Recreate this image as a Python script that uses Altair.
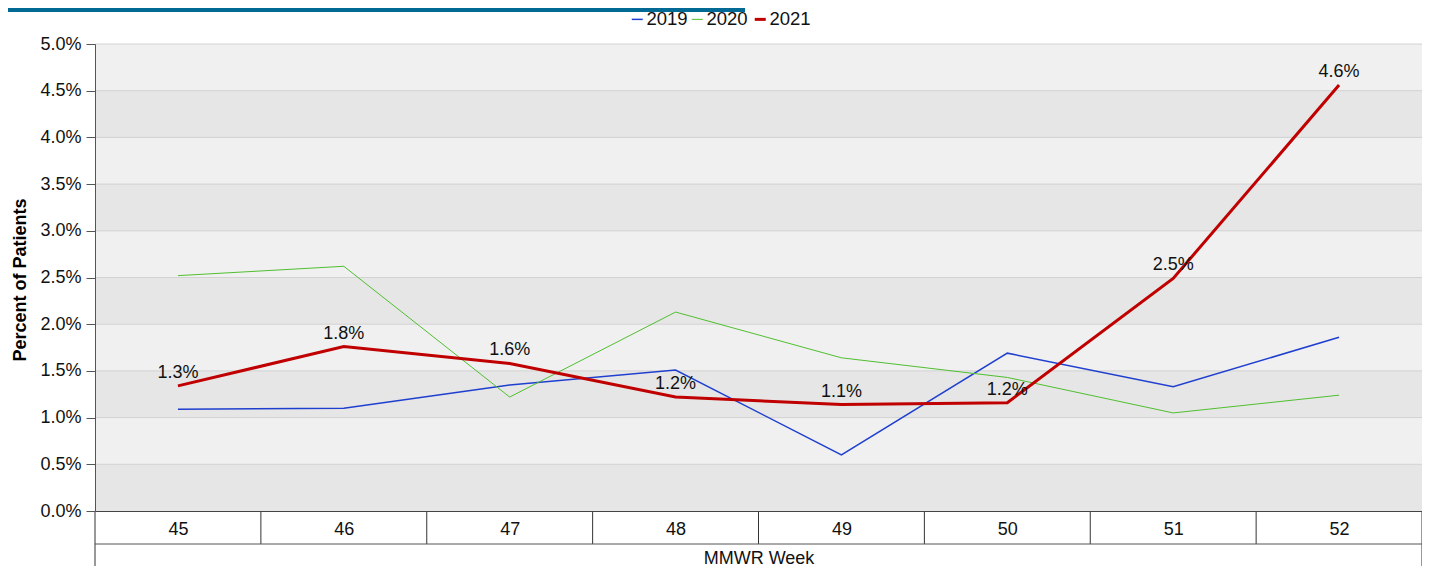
import altair as alt
import pandas as pd

weeks = [45, 46, 47, 48, 49, 50, 51, 52]
pct_2019 = [1.09, 1.10, 1.35, 1.51, 0.60, 1.69, 1.33, 1.86]
pct_2020 = [2.52, 2.62, 1.22, 2.13, 1.64, 1.43, 1.05, 1.24]
pct_2021 = [1.34, 1.76, 1.58, 1.22, 1.14, 1.16, 2.49, 4.56]
series = ["2019", "2020", "2021"]
colors = ["#1f3fcf", "#4fbf2f", "#c00000"]
widths = [1.5, 1, 3]
y_ticks = [0.0, 0.5, 1.0, 1.5, 2.0, 2.5, 3.0, 3.5, 4.0, 4.5, 5.0]
band_starts = [0.0, 1.0, 2.0, 3.0, 4.0]

W, H = 1327, 467
FONT = "Liberation Sans"

rows = []
for s, vals in zip(series, [pct_2019, pct_2020, pct_2021]):
    for w, v in zip(weeks, vals):
        rows.append({"week": w, "pct": v, "year": s})
df = pd.DataFrame(rows)
df21 = df[df.year == "2021"]

xscale = alt.Scale(domain=[weeks[0] - 0.5, weeks[-1] + 0.5], nice=False, zero=False)
yscale = alt.Scale(domain=[0, 5], nice=False, zero=True)

plot_bg = alt.Chart(pd.DataFrame({"a": [0]})).mark_rect(color="#f0f0f0").encode(
    x=alt.value(0), x2=alt.value(W), y=alt.value(0), y2=alt.value(H)
)

bands_df = pd.DataFrame({"lo": band_starts, "hi": [b + 0.5 for b in band_starts]})
bands = alt.Chart(bands_df).mark_rect(color="#e6e6e6").encode(
    x=alt.value(0), x2=alt.value(W),
    y=alt.Y("lo:Q", scale=yscale, axis=alt.Axis(
        values=y_ticks, labelExpr="format(datum.value, '.1f') + '%'",
        grid=False, tickSize=9, tickColor="#555", domainColor="#555",
        labelPadding=5, labelFontSize=18, labelFont=FONT, labelColor="#111",
        title="Percent of Patients", titleFontSize=18, titleFont=FONT,
        titleFontWeight="bold", titleColor="#000", titleX=-75, titleY=H / 2 + 2,
        titleAngle=-90, titleAlign="center", titleBaseline="middle", zindex=1)),
    y2="hi:Q",
)

grid = alt.Chart(pd.DataFrame({"t": y_ticks[1:]})).mark_rule(color="#d2d2d2", strokeWidth=1).encode(
    y=alt.Y("t:Q", scale=yscale), x=alt.value(0), x2=alt.value(W)
)

legend = alt.Legend(
    title=None, orient="none", legendX=533, legendY=-34, direction="horizontal",
    symbolType="stroke", symbolSize=121, labelFontSize=18.5, labelFont=FONT,
    labelColor="#111", columnPadding=0, labelOffset=0, padding=0,
)

lines = alt.Chart(df).mark_line().encode(
    x=alt.X("week:Q", scale=xscale, axis=alt.Axis(
        values=weeks, format="d", grid=False, ticks=False, tickSize=0, domainColor="#444",
        labelPadding=23, labelBaseline="alphabetic", labelFontSize=18, labelFont=FONT,
        labelColor="#111", title="MMWR Week", titleFontSize=18, titleFont=FONT,
        titleFontWeight="normal", titleColor="#111", titleY=52,
        titleBaseline="alphabetic", zindex=1)),
    y=alt.Y("pct:Q", scale=yscale),
    color=alt.Color("year:N", scale=alt.Scale(domain=series, range=colors), legend=legend),
    strokeWidth=alt.StrokeWidth("year:N", scale=alt.Scale(type="ordinal", domain=series, range=widths),
                                legend=legend),
)

labels = alt.Chart(df21).transform_calculate(
    label="format(datum.pct, '.1f') + '%'"
).mark_text(baseline="bottom", dy=-4, fontSize=18, font=FONT, color="#111").encode(
    x=alt.X("week:Q", scale=xscale), y=alt.Y("pct:Q", scale=yscale), text="label:N"
)

inner = [w + 0.5 for w in weeks[:-1]]
edges = [weeks[0] - 0.5, weeks[-1] + 0.5]
dividers = alt.Chart(pd.DataFrame({"b": inner})).mark_rule(color="#333").encode(
    x=alt.X("b:Q", scale=xscale), y=alt.value(H), y2=alt.value(H + 33)
)
edge_rules = alt.Chart(pd.DataFrame({"b": edges})).mark_rule(color="#333").encode(
    x=alt.X("b:Q", scale=xscale), y=alt.value(H), y2=alt.value(H + 70)
)
hline = alt.Chart(pd.DataFrame({"a": [edges[0]], "b": [edges[1]]})).mark_rule(color="#555").encode(
    x=alt.X("a:Q", scale=xscale), x2="b:Q", y=alt.value(H + 33)
)

title_bar = alt.Chart(pd.DataFrame({"a": [0]})).mark_rect(color="#006994").encode(
    x=alt.value(-87), x2=alt.value(650), y=alt.value(-36), y2=alt.value(-32)
)

chart = alt.layer(plot_bg, bands, grid, dividers, edge_rules, hline, lines, labels, title_bar).properties(
    width=W, height=H,
    autosize=alt.AutoSizeParams(type="none"),
    padding={"left": 87, "top": 36, "right": 0, "bottom": 55},
).configure_view(stroke=None).configure(background="white")

chart.save("out.html", embed_options={"renderer": "svg", "actions": False})
